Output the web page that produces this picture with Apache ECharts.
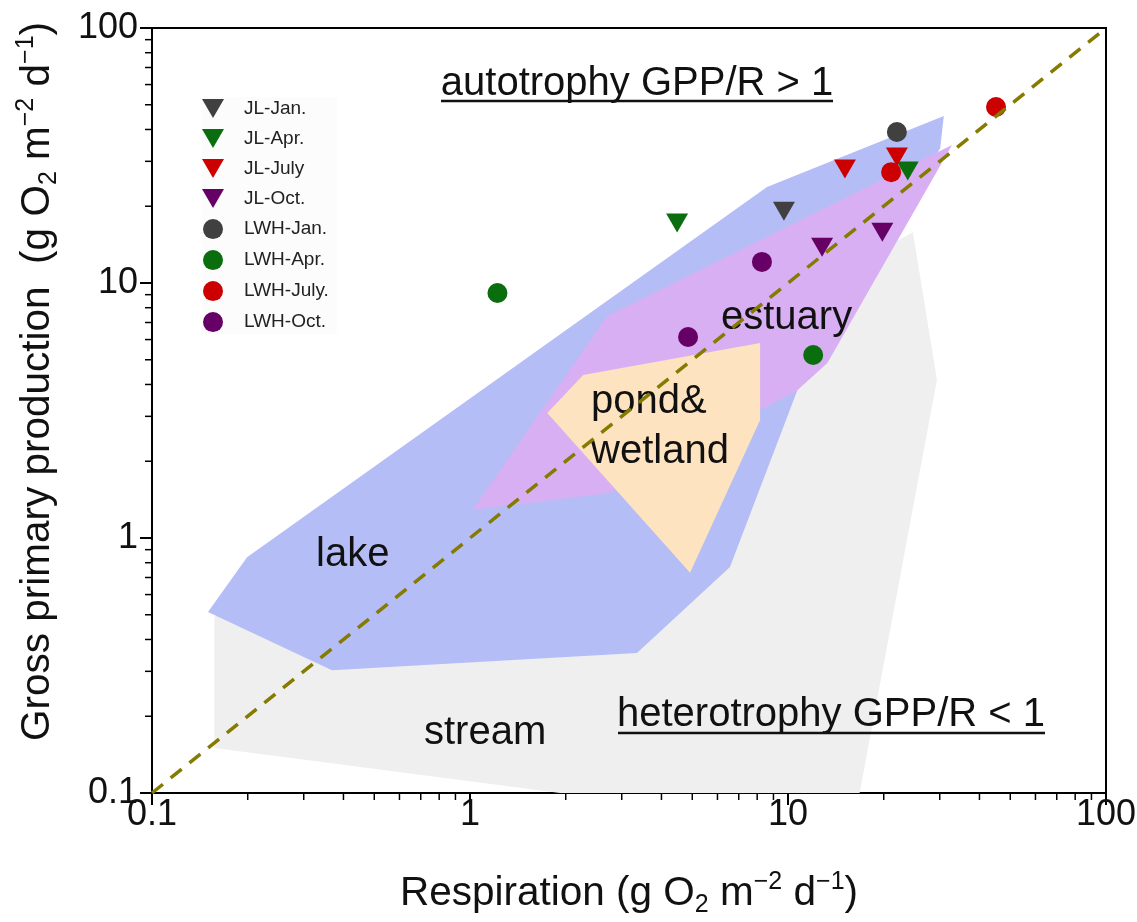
<!DOCTYPE html>
<html>
<head>
<meta charset="utf-8">
<script src="https://cdn.jsdelivr.net/npm/echarts@6/dist/echarts.min.js"></script>
<style>
  html, body { margin: 0; padding: 0; background: #ffffff; }
  #chart { width: 1137px; height: 922px; }
</style>
</head>
<body>
<div id="chart"></div>
<script>
// Respiration (x) vs gross primary production (y), g O2 m-2 d-1
const jlJan   = [[9.71, 19.1]];
const jlApr   = [[4.48, 17.2], [23.8, 27.5]];
const jlJuly  = [[15.1, 28.0], [22.0, 31.2]];
const jlOct   = [[12.8, 13.8], [19.8, 15.8]];
const lwhJan  = [[22.0, 39.1]];
const lwhApr  = [[1.22, 9.14], [12.0, 5.22]];
const lwhJuly = [[45.1, 49.0], [21.1, 27.2]];
const lwhOct  = [[8.28, 12.1], [4.85, 6.14]];

// Ranges reported for each ecosystem type (polygon outlines, R vs GPP)
const streamRange  = [[0.157, 0.490], [24.7, 15.8], [29.4, 4.17], [16.8, 0.1], [1.92, 0.1], [0.157, 0.150]];
const lakeRange    = [[0.150, 0.513], [0.199, 0.841], [8.59, 23.8], [30.9, 45.2], [30.1, 33.8],
                      [10.7, 3.80], [6.57, 0.769], [3.35, 0.354], [0.368, 0.303]];
const estuaryRange = [[1.02, 1.29], [2.70, 7.42], [32.8, 34.8], [13.3, 4.86], [10.7, 3.80], [8.17, 3.18], [2.75, 1.50]];
const pondRange    = [[1.75, 3.09], [2.27, 4.36], [8.17, 5.82], [8.17, 2.90], [4.92, 0.730]];

// GPP/R = 1 reference line
const oneToOne = [[0.1, 0.1], [100, 100]];

// Decades shown on both axes
const decades = [0.1, 1, 10, 100];

const FONT = 'Liberation Sans';
const downTriangle = 'path://M0,0L20,0L10,17.3Z';

// log-spaced minor tick values (2..9 within each decade)
const minorTicks = [];
for (let i = 0; i < decades.length - 1; i++) {
  for (let k = 2; k <= 9; k++) minorTicks.push(+(decades[i] * k).toPrecision(3));
}

function regionSeries(name, pts, fill) {
  return {
    type: 'custom', name: name, data: pts, z: 1, silent: true,
    renderItem: function (params, api) {
      if (params.dataIndex !== 0) return null;
      const points = pts.map(function (p) { return api.coord(p); });
      return { type: 'polygon', shape: { points: points }, style: { fill: fill } };
    }
  };
}

function minorTickSeries(axis) {
  return {
    type: 'custom', silent: true, z: 6, clip: false,
    data: minorTicks.map(function (v) { return axis === 'x' ? [v, decades[0]] : [decades[0], v]; }),
    renderItem: function (params, api) {
      const p = api.coord([api.value(0), api.value(1)]);
      const shape = axis === 'x'
        ? { x1: p[0], y1: p[1], x2: p[0], y2: p[1] + 7 }
        : { x1: p[0], y1: p[1], x2: p[0] - 7, y2: p[1] };
      return { type: 'line', shape: shape, style: { stroke: '#000', lineWidth: 1.5 } };
    }
  };
}

function pointSeries(name, data, color, symbol) {
  const tri = symbol === 'triangle';
  return {
    type: 'scatter', name: name, data: data, z: 5,
    symbol: tri ? downTriangle : 'circle',
    symbolSize: tri ? [22, 19] : 20,
    itemStyle: { color: color, opacity: 1 }
  };
}

const unitRich = {
  t:   { fontSize: 40.5, fontFamily: FONT, color: '#111', lineHeight: 48 },
  sub: { fontSize: 25, fontFamily: FONT, color: '#111', lineHeight: 25, verticalAlign: 'bottom' },
  sup: { fontSize: 25, fontFamily: FONT, color: '#111', lineHeight: 25, verticalAlign: 'top' }
};

const labelFmt = function (v) { return v < 1 ? v.toFixed(1) : String(Math.round(v)); };

const axisCommon = {
  type: 'log', logBase: 10, min: decades[0], max: decades[decades.length - 1],
  axisLine: { show: true, lineStyle: { color: '#000', width: 2 } },
  axisTick: { show: true, inside: false, length: 12, lineStyle: { color: '#000', width: 2 } },
  minorTick: { show: false },
  splitLine: { show: false },
  nameLocation: 'middle'
};

const labelFont = '40px "' + FONT + '"';
function note(text, x, y, align) {
  return { type: 'text', z: 3, silent: true,
    style: { text: text, x: x, y: y, align: align, verticalAlign: 'middle', font: labelFont, fill: '#111' } };
}
function underline(x1, x2, y) {
  return { type: 'line', z: 3, silent: true, shape: { x1: x1, y1: y, x2: x2, y2: y }, style: { stroke: '#111', lineWidth: 2.5 } };
}

const chart = echarts.init(document.getElementById('chart'), null, { renderer: 'canvas' });

const option = {
  backgroundColor: '#ffffff',
  animation: false,
  grid: {
    left: 152, right: 31, top: 28, bottom: 129,
    show: true, borderColor: '#000', borderWidth: 2, backgroundColor: 'transparent',
    containLabel: false, outerBoundsMode: 'none'
  },
  legend: {
    orient: 'vertical', left: 202, top: 97,
    itemWidth: 22, itemHeight: 20, itemGap: 11,
    selectedMode: false,
    backgroundColor: 'rgba(0,0,0,0.012)',
    padding: [2, 8, 2, 0],
    textStyle: { fontFamily: FONT, fontSize: 19, color: '#222', padding: [0, 0, 0, 15] },
    data: [
      { name: 'JL-Jan.', icon: downTriangle },
      { name: 'JL-Apr.', icon: downTriangle },
      { name: 'JL-July', icon: downTriangle },
      { name: 'JL-Oct.', icon: downTriangle },
      { name: 'LWH-Jan.', icon: 'circle' },
      { name: 'LWH-Apr.', icon: 'circle' },
      { name: 'LWH-July.', icon: 'circle' },
      { name: 'LWH-Oct.', icon: 'circle' }
    ]
  },
  xAxis: Object.assign({}, axisCommon, {
    name: '{t|Respiration (g O}{sub|2}{t| m}{sup|−2}{t| d}{sup|−1}{t|)}',
    nameGap: 77,
    nameTextStyle: { rich: unitRich },
    axisLabel: { color: '#111', fontFamily: FONT, fontSize: 36, margin: 4, formatter: labelFmt }
  }),
  yAxis: Object.assign({}, axisCommon, {
    name: '{t|Gross primary production  (g O}{sub|2}{t| m}{sup|−2}{t| d}{sup|−1}{t|)}',
    nameGap: 90,
    nameRotate: 90,
    nameTextStyle: { rich: unitRich, padding: [0, 0, 0, 58] },
    axisLabel: { color: '#111', fontFamily: FONT, fontSize: 36, margin: 14, formatter: labelFmt }
  }),
  graphic: [
    note('autotrophy GPP/R > 1', 637, 84, 'center'),
    underline(441, 833, 101),
    note('heterotrophy GPP/R < 1', 831, 715, 'center'),
    underline(618, 1045, 733),
    note('lake', 316, 555, 'left'),
    note('stream', 424, 733, 'left'),
    note('estuary', 721, 318, 'left'),
    note('pond&', 591, 402, 'left'),
    note('wetland', 591, 452, 'left')
  ],
  series: [
    regionSeries('stream', streamRange, '#efefef'),
    regionSeries('lake', lakeRange, '#b5bdf6'),
    regionSeries('estuary', estuaryRange, '#d9aff3'),
    regionSeries('pond&wetland', pondRange, '#fde3c0'),
    minorTickSeries('x'),
    minorTickSeries('y'),
    pointSeries('JL-Jan.', jlJan, '#404040', 'triangle'),
    pointSeries('JL-Apr.', jlApr, '#0a6e0e', 'triangle'),
    pointSeries('JL-July', jlJuly, '#cc0000', 'triangle'),
    pointSeries('JL-Oct.', jlOct, '#660066', 'triangle'),
    pointSeries('LWH-Jan.', lwhJan, '#404040', 'circle'),
    pointSeries('LWH-Apr.', lwhApr, '#0a6e0e', 'circle'),
    pointSeries('LWH-July.', lwhJuly, '#cc0000', 'circle'),
    pointSeries('LWH-Oct.', lwhOct, '#660066', 'circle'),
    {
      type: 'line', name: 'GPP/R = 1', data: oneToOne, z: 10, silent: true,
      symbol: 'none',
      lineStyle: { color: '#857b00', width: 3.5, type: [14, 10] }
    }
  ]
};

chart.setOption(option);
</script>
</body>
</html>
